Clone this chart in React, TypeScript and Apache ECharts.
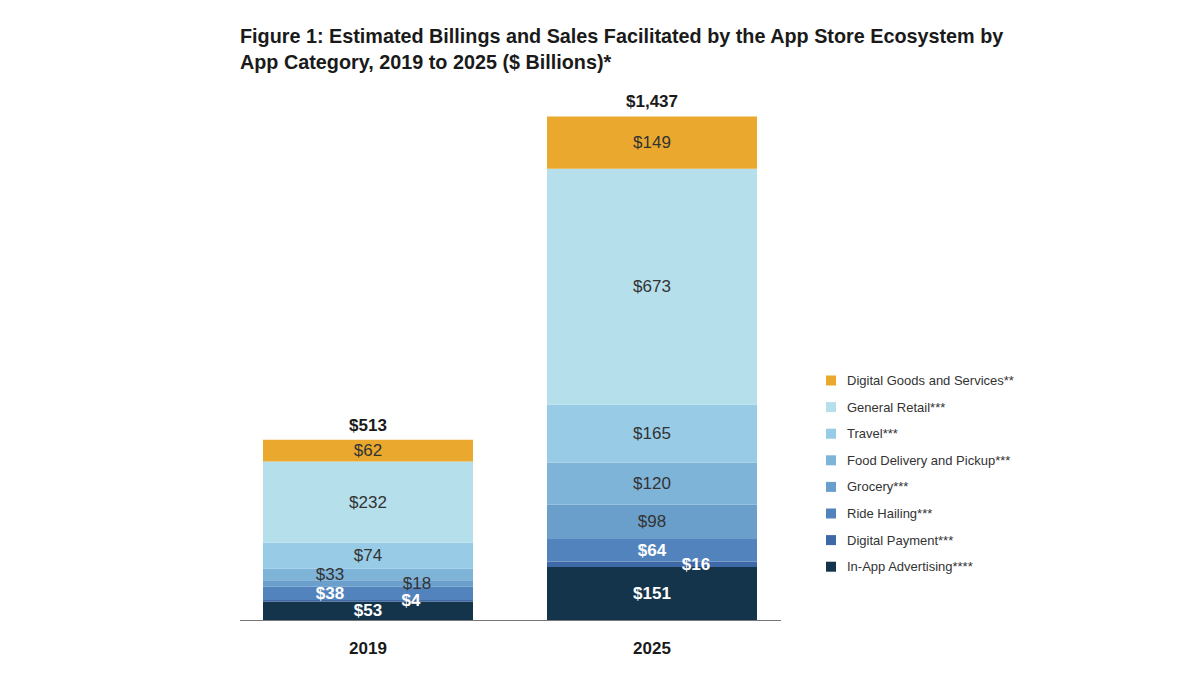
import React, { useEffect, useRef } from "react";
import * as echarts from "echarts";

const years = ["2019", "2025"];
const seriesNames = [
  "In-App Advertising****",
  "Digital Payment***",
  "Ride Hailing***",
  "Grocery***",
  "Food Delivery and Pickup***",
  "Travel***",
  "General Retail***",
  "Digital Goods and Services**",
];
const inAppAdvertising = [53, 151];
const digitalPayment = [4, 16];
const rideHailing = [38, 64];
const grocery = [18, 98];
const foodDelivery = [33, 120];
const travel = [74, 165];
const generalRetail = [232, 673];
const digitalGoods = [62, 149];
const totals = [513, 1437];

const seriesValues = [
  inAppAdvertising,
  digitalPayment,
  rideHailing,
  grocery,
  foodDelivery,
  travel,
  generalRetail,
  digitalGoods,
];
const colors = [
  "#14344b",
  "#3f68a6",
  "#5283bd",
  "#6a9fcb",
  "#7fb4d9",
  "#97cbe6",
  "#b6dfec",
  "#eaa92e",
];
const labelColors = ["#fff", "#fff", "#fff", "#333", "#333", "#333", "#333", "#333"];
// horizontal label offsets per series per bar (2019, 2025)
const labelOffsets: number[][] = [
  [0, 0],
  [43, 44],
  [-38, 0],
  [49, 0],
  [-38, 0],
  [0, 0],
  [0, 0],
  [0, 0],
];

export default function App() {
  const ref = useRef<HTMLDivElement>(null);
  useEffect(() => {
    if (!ref.current) return;
    const chart = echarts.init(ref.current, undefined, { renderer: "svg" });
    const font = "'Liberation Sans', Arial, Helvetica, sans-serif";
    const series: any[] = seriesValues.map((vals, i) => ({
      name: seriesNames[i],
      type: "bar",
      stack: "total",
      barWidth: 210,
      itemStyle: { color: colors[i] },
      emphasis: { disabled: true },
      data: vals.map((v, j) => ({
        value: v,
        label: {
          show: true,
          position: "inside",
          offset: [labelOffsets[i][j], 0],
          formatter: "$" + v,
          color: labelColors[i],
          fontSize: 17,
          fontFamily: font,
          fontWeight: labelColors[i] === "#fff" ? "bold" : "normal",
        },
      })),
    }));
    series.push({
      name: "Total",
      type: "bar",
      stack: "total",
      barWidth: 210,
      itemStyle: { color: "transparent" },
      emphasis: { disabled: true },
      data: totals.map((t) => ({
        value: 0,
        label: {
          show: true,
          position: "top",
          distance: 6,
          formatter: "$" + t.toLocaleString("en-US"),
          color: "#1a1a1a",
          fontSize: 17,
          fontWeight: "bold",
          fontFamily: font,
        },
      })),
    });
    chart.setOption({
      animation: false,
      backgroundColor: "#fff",
      title: {
        text:
          "Figure 1: Estimated Billings and Sales Facilitated by the App Store Ecosystem by\nApp Category, 2019 to 2025 ($ Billions)*",
        left: 235,
        top: 18,
        textStyle: {
          fontSize: 19.8,
          fontWeight: "bold",
          color: "#1a1a1a",
          fontFamily: font,
          lineHeight: 26,
        },
      },
      legend: {
        data: [...seriesNames].reverse(),
        orient: "vertical",
        left: 821,
        top: 369,
        itemWidth: 10,
        itemHeight: 10,
        itemGap: 13.6,
        icon: "rect",
        textStyle: { fontSize: 13, color: "#333", fontFamily: font, padding: [0, 0, 0, 6] },
        selectedMode: false,
      },
      grid: { left: 226, right: 406, top: 94, bottom: 55 },
      xAxis: {
        type: "category",
        data: years,
        axisLine: { show: false },
        axisTick: { show: false },
        axisLabel: {
          margin: 20,
          fontSize: 17,
          fontWeight: "bold",
          color: "#1a1a1a",
          fontFamily: font,
        },
      },
      yAxis: {
        type: "value",
        min: 0,
        max: 1500,
        show: false,
        splitLine: { show: false },
      },
      graphic: [
        {
          type: "line",
          shape: { x1: 240, y1: 620.5, x2: 781, y2: 620.5 },
          style: { stroke: "#777", lineWidth: 1 },
          z: 10,
        },
      ],
      series,
    });
    return () => chart.dispose();
  }, []);
  return (
    <div
      ref={ref}
      style={{ position: "absolute", left: 0, top: 0, width: 1200, height: 675 }}
    />
  );
}
